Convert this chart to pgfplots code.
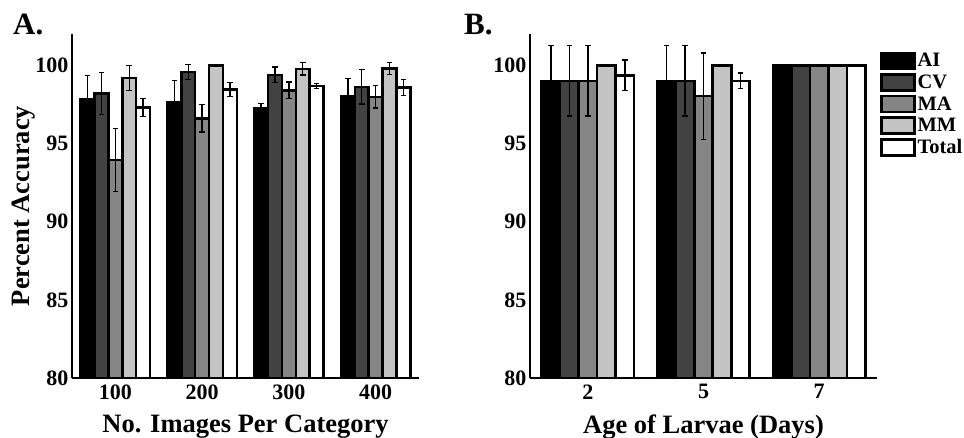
\documentclass[border=0pt]{standalone}
\usepackage{fontspec}
\setmainfont{Liberation Serif}
\usepackage{pgfplots}
\usepackage{pgfplotstable}
\pgfplotsset{compat=1.18}

\definecolor{cAI}{gray}{0}
\definecolor{cCV}{gray}{0.26}
\definecolor{cMA}{gray}{0.52}
\definecolor{cMM}{gray}{0.77}

% panel A: images per category
\pgfplotstableread{
x AI   eAI  CV    eCV  MA    eMA  MM    eMM  To    eTo
1 97.83 1.50 98.19 1.33 93.94 2.00 99.19 0.79 97.30 0.58
2 97.62 1.42 99.57 0.49 96.60 0.88 100.0 0.00 98.45 0.46
3 97.23 0.32 99.38 0.50 98.40 0.52 99.77 0.39 98.68 0.16
4 98.02 1.13 98.62 1.10 97.98 0.71 99.79 0.39 98.57 0.51
}\tabA

% panel B: age of larvae
\pgfplotstableread{
x AI   eAI  CV    eCV  MA    eMA  MM    eMM  To    eTo
1 99.0 2.25 99.0 2.25 99.0 2.25 100.0 0.00 99.36 0.98
2 99.0 2.25 99.0 2.25 98.03 2.76 100.0 0.00 99.0 0.50
3 100.0 0.00 100.0 0.00 100.0 0.00 100.0 0.00 100.0 0.04
}\tabB

\pgfplotsset{
  accbars/.style={
    scale only axis, width=347pt, height=344pt,
    anchor=south west,
    ybar=0pt, bar width=0.16,
    ymin=80, ymax=102, ytick={80,85,...,100},
    xtick=data,
    axis lines*=left,
    axis line style={line width=2.8pt},
    major tick length=0pt,
    tick label style={font=\fontsize{22}{24}\selectfont\bfseries},
    xticklabel style={yshift=-3pt},
    /pgf/number format/assume math mode=true,
    label style={font=\fontsize{26.5}{30}\selectfont\bfseries},
    xlabel style={yshift=-9pt},
    ylabel style={yshift=-7pt},
    legend image code/.code={\draw[#1, line width=2.6pt] (0pt,-8pt) rectangle (33pt,8pt);},
  },
  eb/.style={draw=black, line width=2.6pt,
    /pgfplots/error bars/y dir=both,
    /pgfplots/error bars/y explicit,
    /pgfplots/error bars/error bar style={line width=1.4pt, black},
    /pgfplots/error bars/error mark options={rotate=90, mark size=2.8pt, line width=1.4pt, black}},
}

\begin{document}
\begin{tikzpicture}
\useasboundingbox (0,0) rectangle (964pt,438pt);

\begin{axis}[accbars, at={(72pt,60pt)},
    xmin=0.5, xmax=4.5,
    xticklabels={100,200,300,400},
    xlabel={No. Images Per Category},
    ylabel={Percent Accuracy}]
\addplot[eb, fill=cAI] table[x=x, y=AI, y error=eAI] {\tabA};
\addplot[eb, fill=cCV] table[x=x, y=CV, y error=eCV] {\tabA};
\addplot[eb, fill=cMA] table[x=x, y=MA, y error=eMA] {\tabA};
\addplot[eb, fill=cMM] table[x=x, y=MM, y error=eMM] {\tabA};
\addplot[eb, fill=white] table[x=x, y=To, y error=eTo] {\tabA};
\end{axis}

\begin{axis}[accbars, at={(530pt,60pt)},
    xmin=0.5, xmax=3.5,
    xticklabels={2,5,7},
    xlabel={Age of Larvae (Days)},
    legend style={at={(1.008,0.95)}, anchor=north west, draw=none, fill=none,
      font=\fontsize{20.5}{22}\selectfont\bfseries, row sep=2.5pt, inner sep=0pt},
    legend cell align=left]
\addplot[eb, fill=cAI] table[x=x, y=AI, y error=eAI] {\tabB};
\addplot[eb, fill=cCV] table[x=x, y=CV, y error=eCV] {\tabB};
\addplot[eb, fill=cMA] table[x=x, y=MA, y error=eMA] {\tabB};
\addplot[eb, fill=cMM] table[x=x, y=MM, y error=eMM] {\tabB};
\addplot[eb, fill=white] table[x=x, y=To, y error=eTo] {\tabB};
\legend{AI,CV,MA,MM,Total}
\end{axis}

\node[anchor=north west, inner sep=0pt, font=\fontsize{31}{33}\selectfont\bfseries] at (13pt,424pt) {A.};
\node[anchor=north west, inner sep=0pt, font=\fontsize{31}{33}\selectfont\bfseries] at (464pt,424pt) {B.};
\end{tikzpicture}
\end{document}
